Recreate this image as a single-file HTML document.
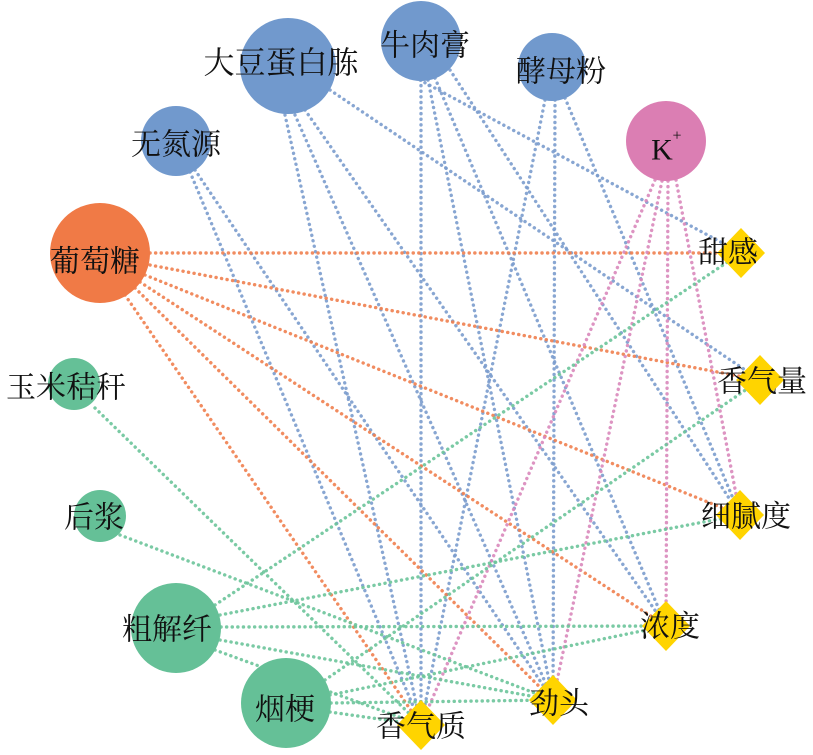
<!DOCTYPE html>
<html><head><meta charset="utf-8"><style>
html,body{margin:0;padding:0;background:#fff;}
svg{display:block;}
text{font-family:"Liberation Serif","Noto Serif CJK SC",serif;fill:#111;text-anchor:middle;dominant-baseline:central;}
.b{stroke:#7b9ccd;}.o{stroke:#ef7f4f;}.g{stroke:#6cc49a;}.p{stroke:#d988bb;}
line{stroke-width:3.4;stroke-dasharray:0.1 5.5;stroke-linecap:round;opacity:0.9;fill:none;}
</style></head><body>
<svg width="813" height="755" viewBox="0 0 813 755" xmlns="http://www.w3.org/2000/svg">
<g class="b">
<line x1="330" y1="90" x2="760" y2="380"/>
<line x1="305" y1="110" x2="666" y2="626"/>
<line x1="295" y1="115" x2="553" y2="700"/>
<line x1="285" y1="115" x2="421" y2="725"/>
<line x1="421" y1="80" x2="421" y2="725"/>
<line x1="428" y1="80" x2="553" y2="700"/>
<line x1="435" y1="78" x2="666" y2="626"/>
<line x1="450" y1="70" x2="740" y2="515"/>
<line x1="420" y1="80" x2="741" y2="253"/>
<line x1="545" y1="100" x2="421" y2="725"/>
<line x1="555" y1="100" x2="553" y2="700"/>
<line x1="565" y1="98" x2="740" y2="515"/>
<line x1="190" y1="172" x2="421" y2="725"/>
<line x1="195" y1="170" x2="553" y2="700"/>
</g>
<g class="o">
<line x1="150" y1="253" x2="741" y2="253"/>
<line x1="150" y1="265" x2="760" y2="380"/>
<line x1="145" y1="275" x2="740" y2="515"/>
<line x1="140" y1="282" x2="666" y2="626"/>
<line x1="135" y1="288" x2="553" y2="700"/>
<line x1="125" y1="295" x2="421" y2="725"/>
</g>
<g class="p">
<line x1="655" y1="180" x2="421" y2="725"/>
<line x1="662" y1="181" x2="553" y2="700"/>
<line x1="668" y1="181" x2="666" y2="626"/>
<line x1="676" y1="180" x2="740" y2="515"/>
</g>
<g class="g">
<line x1="95" y1="408" x2="421" y2="725"/>
<line x1="120" y1="535" x2="553" y2="700"/>
<line x1="215" y1="605" x2="741" y2="253"/>
<line x1="220" y1="615" x2="740" y2="515"/>
<line x1="221" y1="627" x2="666" y2="626"/>
<line x1="220" y1="640" x2="553" y2="700"/>
<line x1="215" y1="650" x2="421" y2="725"/>
<line x1="325" y1="680" x2="760" y2="380"/>
<line x1="330" y1="695" x2="666" y2="626"/>
<line x1="331" y1="703" x2="553" y2="700"/>
<line x1="330" y1="712" x2="421" y2="725"/>
</g>
<g fill="#7199cd">
<circle cx="288" cy="66" r="48"/>
<circle cx="421" cy="41" r="40"/>
<circle cx="552" cy="67" r="34"/>
<circle cx="176" cy="141" r="35"/>
</g>
<circle cx="666" cy="141" r="40" fill="#db7eb3"/>
<circle cx="100" cy="253" r="50" fill="#f07a46"/>
<g fill="#65c097">
<circle cx="74" cy="384" r="26"/>
<circle cx="100" cy="516" r="26"/>
<circle cx="176" cy="628" r="45"/>
<circle cx="286" cy="703" r="45"/>
</g>
<g fill="#ffd400">
<polygon points="741,228 765,253 741,278 717,253"/>
<polygon points="760,355 784,380 760,405 736,380"/>
<polygon points="740,490 764,515 740,540 716,515"/>
<polygon points="666,601 690,626 666,651 642,626"/>
<polygon points="553,675 577,700 553,725 529,700"/>
<polygon points="421,700 445,725 421,750 397,725"/>
</g>
<g font-size="30">
<text x="281" y="63" font-size="31">大豆蛋白胨</text>
<text x="425" y="46">牛肉膏</text>
<text x="561" y="72">酵母粉</text>
<text x="176" y="145">无氮源</text>
<text x="95" y="262">葡萄糖</text>
<text x="66" y="388">玉米秸秆</text>
<text x="94" y="518">后浆</text>
<text x="167" y="630">粗解纤</text>
<text x="285" y="710">烟梗</text>
<text x="421" y="727">香气质</text>
<text x="559" y="704">劲头</text>
<text x="670" y="627">浓度</text>
<text x="746" y="517">细腻度</text>
<text x="762" y="382">香气量</text>
<text x="728" y="253">甜感</text>
</g>
<text x="662" y="150" font-size="30">K</text>
<text x="677" y="136" font-size="16">+</text>
</svg>
</body></html>
